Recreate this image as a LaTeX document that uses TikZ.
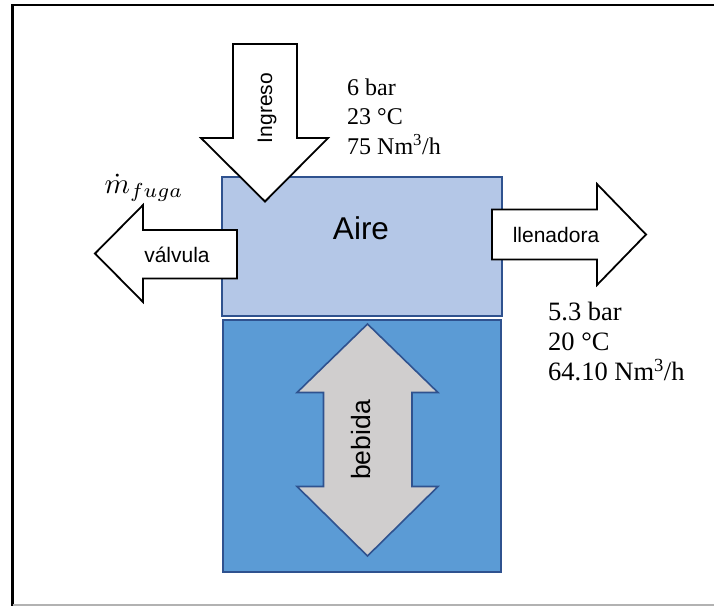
\documentclass[tikz,border=0pt]{standalone}
\usepackage{fontspec}
\setmainfont{Liberation Serif}
\setsansfont{Liberation Sans}
\begin{document}
\begin{tikzpicture}[x=1pt,y=-1pt,
  airefill/.style={fill={rgb,255:red,180;green,199;blue,231}},
  bebidafill/.style={fill={rgb,255:red,91;green,155;blue,213}},
  boxline/.style={draw={rgb,255:red,47;green,82;blue,143},line width=2pt},
  flowarrow/.style={draw=black,fill=white,line width=1.8pt,line join=miter},
  greyarrow/.style={draw={rgb,255:red,47;green,82;blue,143},fill={rgb,255:red,208;green,206;blue,206},line width=1.6pt,line join=miter},
  sanslabel/.style={font=\sffamily\fontsize{21}{25}\selectfont,inner sep=0pt},
  datalabel/.style={align=left,anchor=north west,inner sep=0pt}]
\useasboundingbox (0,0) rectangle (714,606);
% outer frame
\fill[white] (0,0) rectangle (714,606);
\draw[line width=2.5pt,black] (714,5) -- (12.5,5) -- (12.5,606);
\draw[line width=1.5pt,black!30] (12.5,605) -- (714,605);

% air chamber
\path[airefill,boxline] (222,177) rectangle (502,316);
\node[font=\sffamily\fontsize{31.5}{36}\selectfont,inner sep=0pt] (aire) at (361,228) {Aire};

% liquid chamber
\path[bebidafill,boxline] (223,320) rectangle (501,572);
\path[greyarrow] (367.5,324) -- (438,392.5) -- (412,392.5) -- (412,486.5) -- (438,486.5)
  -- (367.5,556) -- (297,486.5) -- (323.5,486.5) -- (323.5,392.5) -- (297,392.5) -- cycle;
\node[font=\sffamily\fontsize{26.5}{30}\selectfont,inner sep=0pt,rotate=90] (bebida) at (361,440) {bebida};

% inlet arrow
\path[flowarrow] (233,44) -- (297,44) -- (297,138) -- (328,138) -- (265,201.5)
  -- (201,138) -- (233,138) -- cycle;
\node[sanslabel,rotate=90] (ingreso) at (267,108) {Ingreso};
\node[datalabel,font=\fontsize{24}{29.5}\selectfont] (inlet) at (347,78.5)
  {6 bar\\23 °C\\75 Nm\textsuperscript{3}/h};

% leak arrow
\path[flowarrow] (237,230) -- (237,278.5) -- (143,278.5) -- (143,302) -- (95,253.5)
  -- (143,205) -- (143,230) -- cycle;
\node[sanslabel] (valvula) at (177,255) {válvula};
\node[inner sep=0pt,scale=2.9] (fuga) at (144,188) {$\dot{m}_{fuga}$};

% outlet arrow
\path[flowarrow] (492,209.5) -- (597,209.5) -- (597,184) -- (646,234.5)
  -- (597,285) -- (597,259.5) -- (492,259.5) -- cycle;
\node[sanslabel] (llenadora) at (556,235) {llenadora};
\node[datalabel,font=\fontsize{26.5}{30}\selectfont] (outlet) at (548,301.5)
  {5.3 bar\\20 °C\\64.10 Nm\textsuperscript{3}/h};
\end{tikzpicture}
\end{document}
